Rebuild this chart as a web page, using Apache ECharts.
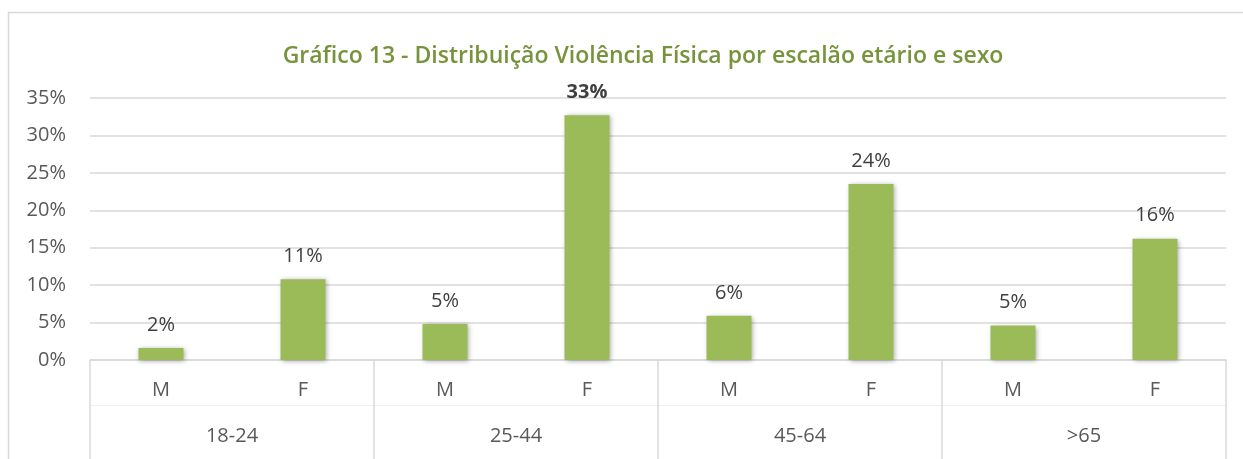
<!DOCTYPE html>
<html>
<head>
<meta charset="utf-8">
<script src="https://cdn.jsdelivr.net/npm/echarts@6/dist/echarts.min.js"></script>
<style>
  html, body { margin: 0; padding: 0; background: #fff; }
  #main { width: 1243px; height: 459px; }
</style>
</head>
<body>
<div id="main"></div>
<script>
// dados do gráfico
const sexos = ['M', 'F', 'M', 'F', 'M', 'F', 'M', 'F'];
const escaloes = ['18-24', '25-44', '45-64', '>65'];
const valores = [1.6, 10.8, 4.8, 32.7, 5.9, 23.5, 4.6, 16.2];
const destaque = [false, false, false, true, false, false, false, false];  // rótulo a negrito
const yTicks = [0, 5, 10, 15, 20, 25, 30, 35];

const cinza = '#595959';
const fonte = '"Open Sans", "Noto Sans", sans-serif';

var chartDom = document.getElementById('main');
var myChart = echarts.init(chartDom, null, { renderer: 'canvas' });
var option;

option = {
  animation: false,
  textStyle: { fontFamily: fonte },
  title: {
    text: 'Gráfico 13 - Distribuição Violência Física por escalão etário e sexo',
    left: 638,
    textAlign: 'center',
    top: 40,
    textStyle: { color: '#77933C', fontSize: 23, fontWeight: 600, fontFamily: fonte }
  },
  graphic: [{
    type: 'rect',
    shape: { x: 8.5, y: 12.5, width: 1260, height: 470 },
    style: { fill: 'none', stroke: '#d9d9d9', lineWidth: 1.5 },
    silent: true
  }],
  grid: { left: 90, right: 17, top: 98, bottom: 99 },
  xAxis: [
    {
      type: 'category',
      data: sexos,
      position: 'bottom',
      axisLine: { show: true, lineStyle: { color: '#d9d9d9', width: 1.5 } },
      axisTick: { show: false },
      axisLabel: { color: cinza, fontSize: 20, margin: 20, fontFamily: fonte }
    },
    {
      type: 'category',
      data: escaloes,
      position: 'bottom',
      axisLine: { show: false },
      axisTick: { show: true, length: 100, lineStyle: { color: '#d9d9d9', width: 1.5 } },
      axisLabel: { color: cinza, fontSize: 20, margin: 66, fontFamily: fonte }
    },
    {
      type: 'category',
      data: escaloes,
      position: 'bottom',
      offset: 45,
      axisLine: { show: true, lineStyle: { color: '#efefef', width: 1 } },
      axisTick: { show: false },
      axisLabel: { show: false }
    }
  ],
  yAxis: {
    type: 'value',
    min: yTicks[0],
    max: yTicks[yTicks.length - 1],
    interval: 5,
    axisLine: { show: false },
    axisTick: { show: false },
    splitLine: { lineStyle: { color: '#d9d9d9', width: 1.5 } },
    axisLabel: { color: cinza, fontSize: 20, margin: 24, formatter: '{value}%', fontFamily: fonte }
  },
  series: [{
    type: 'bar',
    xAxisIndex: 0,
    barWidth: 45,
    data: valores.map(function (v, i) {
      return {
        value: v,
        label: { fontWeight: destaque[i] ? 'bold' : 'normal' }
      };
    }),
    itemStyle: {
      color: '#9BBB59',
      shadowBlur: 5,
      shadowColor: 'rgba(0,0,0,0.35)',
      shadowOffsetX: 1,
      shadowOffsetY: 1
    },
    label: {
      show: true,
      position: 'top',
      distance: 13,
      color: '#404040',
      fontSize: 20,
      fontFamily: fonte,
      formatter: function (p) { return Math.round(p.value) + '%'; }
    }
  }]
};

option && myChart.setOption(option);
</script>
</body>
</html>
